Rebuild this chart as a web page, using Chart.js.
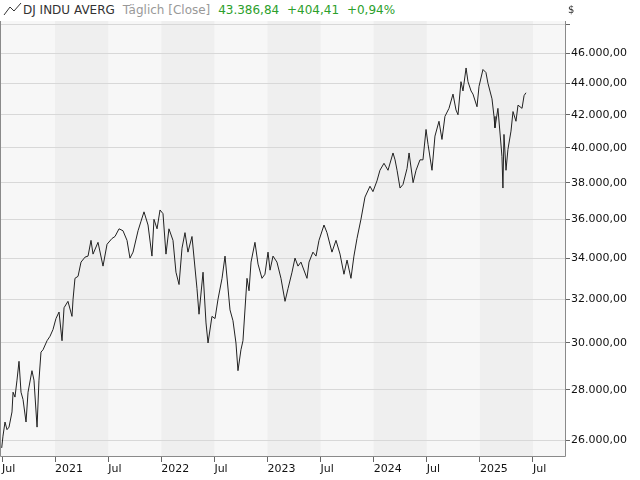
<!DOCTYPE html>
<html>
<head>
<meta charset="utf-8">
<script src="https://cdn.jsdelivr.net/npm/chart.js@4/dist/chart.umd.min.js"></script>
<style>
  html, body { margin: 0; padding: 0; background: #fff; }
  #wrap { position: relative; width: 640px; height: 480px; }
  #head { position: absolute; left: 0; top: 0; width: 566px; height: 21px; background: #fff;
    font: 12px "DejaVu Sans", sans-serif; line-height: 21px; white-space: nowrap; }
  #head .nm { color: #333; }
  #head .mode { color: #999; margin-left: 4px; }
  #head .up { color: #2ca02c; margin-left: 4px; }
  #cur { position: absolute; left: 568px; top: 4px; font: 10px "DejaVu Sans", sans-serif; color: #333; }
</style>
</head>
<body>
<div id="wrap">
  <canvas id="c" width="640" height="480"></canvas>
  <div id="head"><svg width="20" height="14" style="vertical-align:-2px;margin-left:3px"><polyline points="1,13 7,5 11,9 18,1" fill="none" stroke="#333" stroke-width="1"/></svg><span class="nm">DJ INDU AVERG</span> <span class="mode">Täglich [Close]</span> <span class="up">43.386,84</span> <span class="up">+404,41</span> <span class="up">+0,94%</span></div>
  <div id="cur">$</div>
</div>
<script>
// time as decimal years, close values
const TIMES = [
  2020.497, 2020.509, 2020.528, 2020.547, 2020.566, 2020.594, 2020.604, 2020.622, 2020.641, 2020.660,
  2020.679, 2020.698, 2020.726, 2020.745, 2020.782, 2020.801, 2020.830, 2020.848, 2020.867, 2020.886,
  2020.924, 2020.952, 2020.980, 2021.008, 2021.037, 2021.065, 2021.084, 2021.121, 2021.159, 2021.169,
  2021.187, 2021.216, 2021.244, 2021.282, 2021.310, 2021.338, 2021.357, 2021.404, 2021.451, 2021.489,
  2021.536, 2021.564, 2021.602, 2021.639, 2021.677, 2021.705, 2021.734, 2021.781, 2021.809, 2021.837,
  2021.875, 2021.912, 2021.931, 2021.960, 2021.988, 2022.016, 2022.044, 2022.072, 2022.110, 2022.138,
  2022.167, 2022.195, 2022.223, 2022.251, 2022.289, 2022.336, 2022.355, 2022.393, 2022.421, 2022.440,
  2022.477, 2022.506, 2022.534, 2022.572, 2022.600, 2022.647, 2022.675, 2022.703, 2022.722, 2022.750,
  2022.769, 2022.807, 2022.826, 2022.845, 2022.882, 2022.911, 2022.948, 2022.976, 2023.005, 2023.024,
  2023.052, 2023.089, 2023.127, 2023.165, 2023.193, 2023.231, 2023.259, 2023.287, 2023.315, 2023.372,
  2023.391, 2023.428, 2023.457, 2023.485, 2023.532, 2023.560, 2023.607, 2023.645, 2023.683, 2023.720,
  2023.749, 2023.786, 2023.814, 2023.843, 2023.880, 2023.918, 2023.965, 2023.993, 2024.031, 2024.059,
  2024.097, 2024.135, 2024.182, 2024.201, 2024.220, 2024.248, 2024.276, 2024.314, 2024.333, 2024.371,
  2024.399, 2024.436, 2024.464, 2024.493, 2024.512, 2024.549, 2024.577, 2024.615, 2024.643, 2024.671,
  2024.709, 2024.747, 2024.775, 2024.794, 2024.822, 2024.841, 2024.870, 2024.888, 2024.917, 2024.935,
  2024.973, 2024.992, 2025.029, 2025.057, 2025.076, 2025.114, 2025.133, 2025.142, 2025.170, 2025.208,
  2025.217, 2025.227, 2025.246, 2025.264, 2025.293, 2025.312, 2025.340, 2025.359, 2025.397, 2025.416,
  2025.434
];
const CLOSES = [
  25700, 26150, 26700, 26400, 26500, 27100, 27900, 27700, 28400, 29200,
  27900, 27600, 26700, 27900, 28800, 28400, 26500, 28400, 29600, 29700,
  30100, 30300, 30600, 31100, 31400, 30100, 31600, 31900, 31200, 32000,
  33000, 33100, 33800, 34050, 34100, 34900, 34200, 34800, 33600, 34700,
  35000, 35100, 35500, 35400, 34900, 34000, 34300, 35400, 35900, 36400,
  35700, 34100, 36000, 35500, 36500, 36300, 34200, 35500, 34900, 33300,
  32700, 34500, 35300, 34300, 35100, 32500, 31300, 33300, 30900, 30000,
  31200, 31100, 32000, 33000, 34100, 31500, 31000, 30000, 28800, 29700,
  30100, 33000, 32400, 33800, 34800, 33700, 33000, 33200, 34300, 33400,
  34100, 33800, 33000, 31900, 32500, 33300, 34000, 33600, 33800, 33000,
  33800, 34300, 34100, 34900, 35700, 35300, 34300, 34900, 34200, 33200,
  33900, 33000, 34100, 35000, 36000, 37200, 37800, 37500, 38100, 38700,
  39100, 38700, 39700, 39300, 38700, 37700, 37900, 38800, 39700, 38000,
  38700, 39300, 39300, 41100, 40200, 38700, 40700, 41600, 40500, 41900,
  42400, 43300, 42300, 42000, 44100, 43500, 45000, 44100, 43500, 43300,
  42500, 43800, 44900, 44700, 44000, 43000, 41900, 41200, 42400, 39500,
  37700, 40800, 38700, 39900, 41000, 42200, 41600, 42600, 42400, 43200,
  43387
];
const Y_TICKS = [26000, 28000, 30000, 32000, 34000, 36000, 38000, 40000, 42000, 44000, 46000, 48000];
const X_TICKS = [2020.5, 2021, 2021.5, 2022, 2022.5, 2023, 2023.5, 2024, 2024.5, 2025, 2025.5];
const SHADED = [[2021, 2021.5], [2022, 2022.5], [2023, 2023.5], [2024, 2024.5], [2025, 2025.5]];

function fmtDE(v) {
  const s = Math.round(v).toString().replace(/\B(?=(\d{3})+(?!\d))/g, ".");
  return s + ",00";
}

/* ── background bands ─────────────────────────────*/
const bands = {
  id: "bands",
  beforeDraw(chart) {
    const { ctx, chartArea: a, scales: { x } } = chart;
    ctx.save();
    ctx.fillStyle = "#f7f7f7";
    ctx.fillRect(a.left, 0, a.right - a.left, a.bottom);
    ctx.fillStyle = "#efefef";
    SHADED.forEach(([s, e]) => {
      const x0 = Math.max(x.getPixelForValue(s), a.left);
      const x1 = Math.min(x.getPixelForValue(e), a.right);
      ctx.fillRect(x0, 0, x1 - x0, a.bottom);
    });
    ctx.restore();
  },
  afterDraw(chart) {
    const { ctx, chartArea: a } = chart;
    ctx.save();
    ctx.strokeStyle = "#8a8a8a";
    ctx.lineWidth = 1;
    ctx.beginPath();
    ctx.moveTo(a.left + 0.5, 0);
    ctx.lineTo(a.left + 0.5, a.bottom - 0.5);
    ctx.lineTo(a.right - 0.5, a.bottom - 0.5);
    ctx.lineTo(a.right - 0.5, 0);
    ctx.stroke();
    ctx.restore();
  }
};

new Chart(document.getElementById("c"), {
  type: "line",
  data: {
    datasets: [{
      data: TIMES.map((t, i) => ({ x: t, y: CLOSES[i] })),
      borderColor: "#222",
      borderWidth: 1,
      pointRadius: 0,
      tension: 0
    }]
  },
  options: {
    responsive: false,
    animation: false,
    layout: { padding: 0 },
    plugins: { legend: { display: false }, tooltip: { enabled: false } },
    scales: {
      x: {
        type: "linear", min: 2020.481, max: 2025.811,
        afterBuildTicks: s => { s.ticks = X_TICKS.map(v => ({ value: v })); },
        afterFit: s => { s.height = 23; },
        grid: { drawOnChartArea: false, tickLength: 5, color: "#666" },
        border: { display: false },
        ticks: {
          align: "start", maxRotation: 0, autoSkip: false, padding: 1,
          color: "#111", font: { size: 11, family: "'DejaVu Sans'" },
          callback: v => (v % 1 === 0 ? String(v) : "Jul")
        }
      },
      y: {
        type: "logarithmic", position: "right", min: 25358, max: 49190,
        afterBuildTicks: s => { s.ticks = Y_TICKS.map(v => ({ value: v })); },
        afterFit: s => { s.width = 74; },
        grid: { color: "#d8d8d8", tickLength: 4, tickColor: "#666" },
        border: { display: false },
        ticks: {
          padding: 1, color: "#111", font: { size: 11, family: "'DejaVu Sans'" },
          callback: v => (v >= 48000 ? "" : fmtDE(v))
        }
      }
    }
  },
  plugins: [bands]
});
</script>
</body>
</html>
